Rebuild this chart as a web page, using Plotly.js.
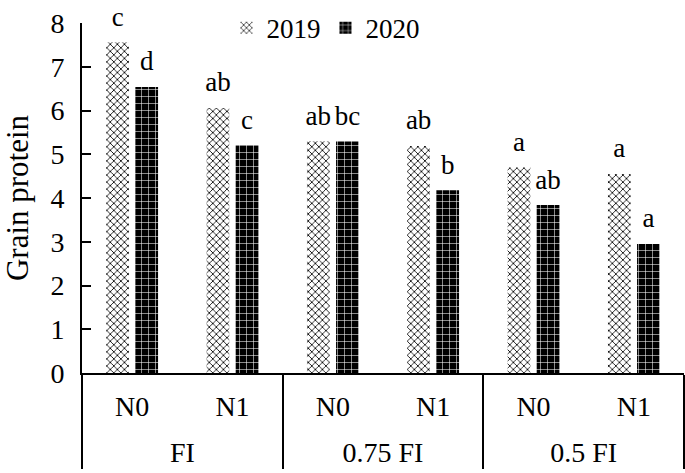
<!DOCTYPE html>
<html>
<head>
<meta charset="utf-8">
<script src="https://cdn.plot.ly/plotly-3.0.1.min.js"></script>
<style>
  html, body { margin: 0; padding: 0; background: #fff; }
  #chart { width: 685px; height: 473px; }
</style>
</head>
<body>
<div id="chart"></div>
<script>
// irrigation level / nitrogen treatment
var irrigation = ["FI", "FI", "0.75 FI", "0.75 FI", "0.5 FI", "0.5 FI"];
var nitrogen = ["N0", "N1", "N0", "N1", "N0", "N1"];

var protein2019 = [7.56, 6.06, 5.30, 5.19, 4.70, 4.55];
var protein2020 = [6.54, 5.21, 5.29, 4.18, 3.84, 2.95];

var letters2019 = ["c", "ab", "ab", "ab", "a", "a"];
var letters2020 = ["d", "c", "bc", "b", "ab", "a"];

var serif = "Liberation Serif, Times New Roman, serif";

// tall invisible padding around the inner labels pushes the outer row lower
var pad = "<span style='font-size:46px'>\u00A0</span>";
var x = [irrigation, nitrogen.map(function (n) { return pad + n + pad; })];

var bar2019 = {
  type: "bar",
  name: "2019",
  x: x,
  y: protein2019,
  offsetgroup: "a",
  marker: {
    color: "#ffffff",
    line: { width: 0 },
    pattern: { shape: "x", fgcolor: "#000000", bgcolor: "#ffffff", size: 5, solidity: 0.3 }
  },
  hoverinfo: "skip"
};

var bar2020 = {
  type: "bar",
  name: "2020",
  x: x,
  y: protein2020,
  offsetgroup: "b",
  marker: {
    color: "#000000",
    line: { width: 0 },
    pattern: { shape: "+", fgcolor: "#ffffff", bgcolor: "#000000", size: 7, solidity: 0.15 }
  },
  hoverinfo: "skip"
};

// significance letters, grouped like the bars
function letterTrace(vals, letters, grp) {
  return {
    type: "scatter",
    mode: "markers+text",
    x: x,
    y: vals,
    text: letters,
    textposition: "top center",
    textfont: { family: serif, size: 27, color: "#000" },
    marker: { size: 14, color: "rgba(0,0,0,0)" },
    offsetgroup: grp,
    showlegend: false,
    cliponaxis: false,
    hoverinfo: "skip"
  };
}

var data = [bar2019, bar2020,
  letterTrace(protein2019, letters2019, "a"),
  letterTrace(protein2020, letters2020, "b")];

var layout = {
  width: 685,
  height: 473,
  margin: { l: 82, r: 1, t: 23, b: 100 },
  paper_bgcolor: "#fff",
  plot_bgcolor: "#fff",
  font: { family: serif, size: 27, color: "#000" },
  barmode: "group",
  bargap: 0.42,
  bargroupgap: 0.22,
  scattermode: "group",
  scattergap: 0.42,
  showlegend: true,
  legend: {
    orientation: "h",
    x: 0.24, y: 1.055, xanchor: "left", yanchor: "top",
    bgcolor: "rgba(0,0,0,0)",
    font: { family: serif, size: 27 },
    itemwidth: 30,
    traceorder: "normal"
  },
  xaxis: {
    type: "multicategory",
    showline: true,
    linecolor: "#000",
    linewidth: 2,
    ticks: "",
    ticklabelstandoff: 7,
    showgrid: false,
    showdividers: true,
    dividercolor: "#000",
    dividerwidth: 2,
    tickfont: { family: serif, size: 28 },
    automargin: false
  },
  yaxis: {
    range: [0, 8],
    dtick: 1,
    showline: true,
    linecolor: "#000",
    linewidth: 2,
    ticks: "inside",
    ticklen: 9,
    tickwidth: 2,
    tickcolor: "#000",
    ticklabelstandoff: 10,
    showgrid: false,
    zeroline: false,
    tickfont: { family: serif, size: 28 },
    title: { text: "Grain protein", font: { family: serif, size: 31 } },
    automargin: false
  }
};

Plotly.newPlot("chart", data, layout, { displayModeBar: false, staticPlot: true });
</script>
</body>
</html>
